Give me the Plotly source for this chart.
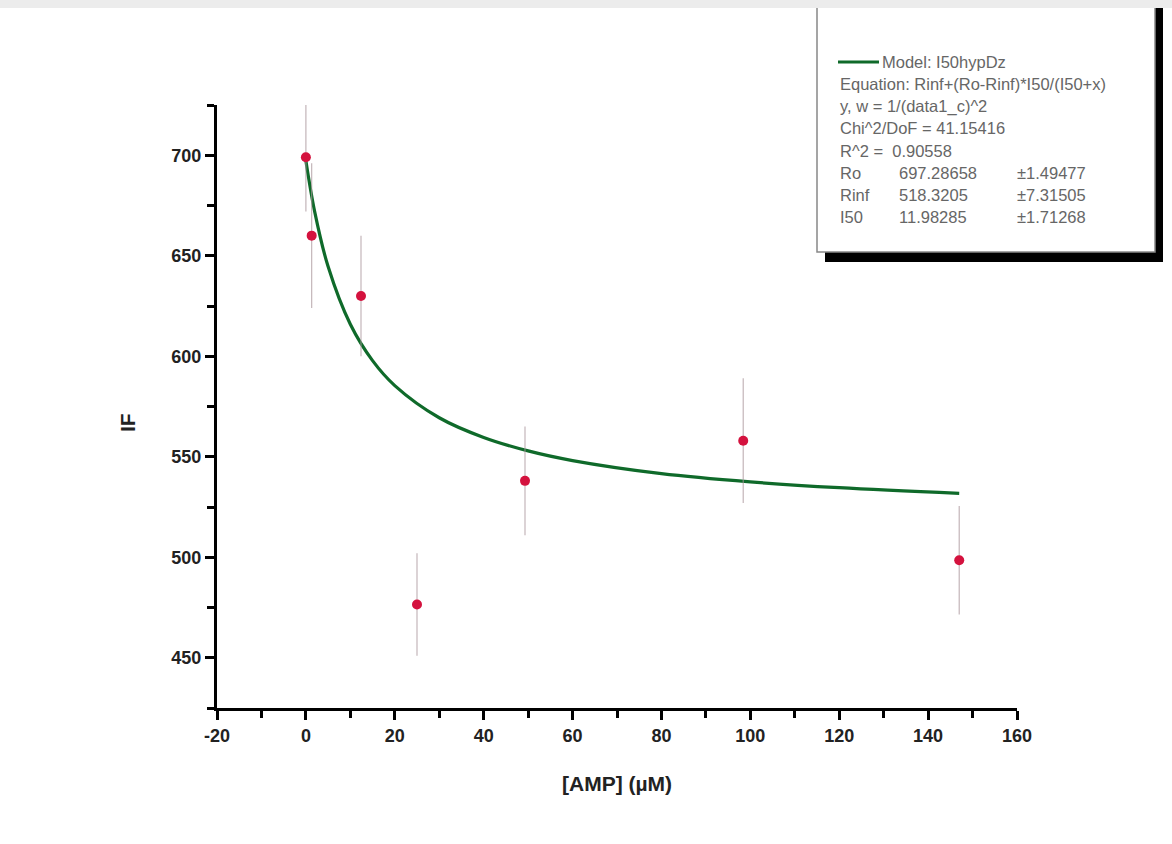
import plotly.graph_objects as go

# ---- data ----
amp_uM = [0, 1.3, 12.4, 25, 49.3, 98.4, 147]
if_values = [699, 660, 630, 476.5, 538, 558, 498.5]
if_errors = [27, 36, 30, 25.5, 27, 31, 27]

fit_x = [0, 2, 5, 10, 15, 20, 30, 40, 50, 60, 80, 100, 120, 147]
fit_y = [697.3, 671.7, 644.6, 615.9, 597.8, 585.4, 569.4, 559.6, 552.9, 548.1, 541.6, 537.5, 534.6, 531.8]

x_ticks = [-20, 0, 20, 40, 60, 80, 100, 120, 140, 160]
y_ticks = [450, 500, 550, 600, 650, 700]

fit_header = "Model: I50hypDz"
fit_lines = [
    "Equation: Rinf+(Ro-Rinf)*I50/(I50+x)",
    "y, w = 1/(data1_c)^2",
    "Chi^2/DoF = 41.15416",
    "R^2 =  0.90558",
]
param_names = ["Ro", "Rinf", "I50"]
param_values = ["697.28658", "518.3205", "11.98285"]
param_errors = ["±1.49477", "±7.31505", "±1.71268"]

# ---- layout geometry (pixels) ----
W, H = 1172, 844
PL, PR, PT, PB = 217, 1017, 105, 708


def px(xp):
    return (xp - PL) / (PR - PL)


def py(yp):
    return (PB - yp) / (PB - PT)


fig = go.Figure()

fig.add_trace(go.Scatter(
    x=fit_x, y=fit_y, mode="lines",
    line=dict(color="#0f6a2a", width=3.2, shape="spline", smoothing=1.0),
    hoverinfo="skip", showlegend=False,
))

fig.add_trace(go.Scatter(
    x=amp_uM, y=if_values, mode="markers",
    marker=dict(color="#d4123e", size=10, symbol="circle"),
    error_y=dict(type="data", array=if_errors, visible=True,
                 color="rgba(170,150,155,0.7)", thickness=1.2, width=0),
    showlegend=False,
))

tickfont = dict(family="Liberation Sans, Arial, sans-serif", size=18, color="#222", weight="bold")

fig.update_xaxes(
    range=[-20, 160], tickvals=x_ticks, ticktext=[str(v) for v in x_ticks],
    showline=True, linecolor="black", linewidth=3, mirror=False,
    ticks="outside", ticklen=9, tickwidth=3, tickcolor="black",
    minor=dict(dtick=10, tick0=0, ticks="outside", ticklen=7, tickwidth=3, tickcolor="black"),
    showgrid=False, zeroline=False, tickfont=tickfont,
)
fig.update_yaxes(
    range=[425, 725], tickvals=y_ticks, ticktext=[str(v) for v in y_ticks],
    showline=True, linecolor="black", linewidth=3, mirror=False,
    ticks="outside", ticklen=9, tickwidth=3, tickcolor="black",
    minor=dict(dtick=25, tick0=425, ticks="outside", ticklen=7, tickwidth=3, tickcolor="black"),
    showgrid=False, zeroline=False, tickfont=tickfont,
)

shapes = []
annotations = []

# axis titles
annotations.append(dict(
    text="[AMP] (µM)", xref="paper", yref="paper", x=px(617), y=py(783),
    xanchor="center", yanchor="middle", showarrow=False,
    font=dict(family="Liberation Sans, Arial, sans-serif", size=21, color="#222", weight="bold"),
))
annotations.append(dict(
    text="IF", xref="paper", yref="paper", x=px(127), y=py(423),
    xanchor="center", yanchor="middle", showarrow=False, textangle=-90,
    font=dict(family="Liberation Sans, Arial, sans-serif", size=21, color="#222", weight="bold"),
))

# fit report box with drop shadow
BX0, BX1, BY0, BY1 = 817, 1155, -20, 252
shapes.append(dict(type="rect", xref="paper", yref="paper",
                   x0=px(BX0 + 8), x1=px(BX1 + 8), y0=py(BY1 + 10), y1=py(BY0 + 10),
                   fillcolor="black", line=dict(width=0), layer="above"))
shapes.append(dict(type="rect", xref="paper", yref="paper",
                   x0=px(BX0), x1=px(BX1), y0=py(BY1), y1=py(BY0),
                   fillcolor="white", line=dict(color="#888", width=1.5), layer="above"))

# green sample line of the legend
shapes.append(dict(type="line", xref="paper", yref="paper",
                   x0=px(838), x1=px(879), y0=py(62), y1=py(62),
                   line=dict(color="#0f6a2a", width=3), layer="above"))

box_font = dict(family="Liberation Sans, Arial, sans-serif", size=16.5, color="#666")
annotations.append(dict(text=fit_header, xref="paper", yref="paper", x=px(880), y=py(62),
                        xanchor="left", yanchor="middle", showarrow=False, font=box_font))
line_y = [84, 106, 128, 151]
for t, yy in zip(fit_lines, line_y):
    annotations.append(dict(text=t, xref="paper", yref="paper", x=px(838), y=py(yy),
                            xanchor="left", yanchor="middle", showarrow=False, font=box_font))
param_y = [173, 195, 217]
for n, v, e, yy in zip(param_names, param_values, param_errors, param_y):
    for t, xx in ((n, 838), (v, 897), (e, 1015)):
        annotations.append(dict(text=t, xref="paper", yref="paper", x=px(xx), y=py(yy),
                                xanchor="left", yanchor="middle", showarrow=False, font=box_font))

# light gray strip at the very top of the picture
shapes.append(dict(type="rect", xref="paper", yref="paper",
                   x0=px(-5), x1=px(W + 5), y0=py(8), y1=py(-5),
                   fillcolor="#ececec", line=dict(width=0), layer="above"))

fig.update_layout(
    width=W, height=H,
    margin=dict(l=PL, r=W - PR, t=PT, b=H - PB, autoexpand=False),
    paper_bgcolor="white", plot_bgcolor="white",
    shapes=shapes, annotations=annotations, showlegend=False,
)

fig.write_html(
    "out.html",
    config={"displayModeBar": False},
    post_script="document.body.style.margin='0';document.body.style.overflow='hidden';",
)
